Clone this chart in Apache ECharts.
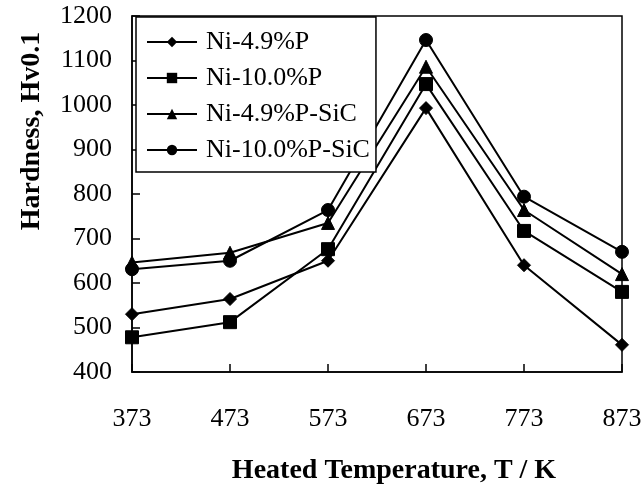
<!DOCTYPE html>
<html>
<head>
<meta charset="utf-8">
<script src="https://cdn.jsdelivr.net/npm/echarts@6/dist/echarts.min.js"></script>
<style>
html,body{margin:0;padding:0;background:#fff;}
#c{width:642px;height:487px;}
</style>
</head>
<body>
<div id="c"></div>
<script>
const temps = ['373', '473', '573', '673', '773', '873'];
const ni49P = [530, 564, 650, 993, 640, 461];
const ni100P = [478, 512, 676, 1047, 717, 580];
const ni49PSiC = [646, 668, 735, 1086, 764, 620];
const ni100PSiC = [631, 650, 764, 1146, 794, 670];
const seriesNames = ['Ni-4.9%P', 'Ni-10.0%P', 'Ni-4.9%P-SiC', 'Ni-10.0%P-SiC'];
const yTicks = {min: 400, max: 1200, step: 100};

const font = '"Liberation Serif", "Times New Roman", serif';
const chart = echarts.init(document.getElementById('c'), null, {renderer: 'canvas'});

function mk(name, data, symbol, size) {
  return {
    name: name, type: 'line', data: data, symbol: symbol, symbolSize: size,
    lineStyle: {color: '#000', width: 2},
    itemStyle: {color: '#000', borderColor: '#000'},
    emphasis: {disabled: true},
    animation: false
  };
}

chart.setOption({
  backgroundColor: '#fff',
  animation: false,
  grid: {left: 132, right: 20, top: 16, bottom: 115, outerBoundsMode: 'none', containLabel: false, show: true, borderColor: '#000', borderWidth: 1.5, backgroundColor: 'transparent'},
  legend: {
    left: 136, top: 17, orient: 'vertical',
    data: seriesNames,
    itemWidth: 50, itemHeight: 13, itemGap: 10,
    padding: [12, 6, 9, 10],
    borderColor: '#000', borderWidth: 1.5, backgroundColor: '#fff',
    textStyle: {fontFamily: font, fontSize: 26, color: '#000', padding: [0, 0, 0, 4]}
  },
  xAxis: {
    type: 'category', data: temps, boundaryGap: false,
    name: 'Heated Temperature, T / K', nameLocation: 'middle', nameGap: 85,
    nameTextStyle: {fontFamily: font, fontSize: 28, fontWeight: 'bold', color: '#000', padding: [0, 0, 0, 34]},
    axisLine: {lineStyle: {color: '#000', width: 1.5}},
    axisTick: {inside: true, length: 8, lineStyle: {color: '#000', width: 1.5}},
    axisLabel: {fontFamily: font, fontSize: 26, color: '#000', margin: 34},
    splitLine: {show: false}
  },
  yAxis: {
    type: 'value', min: yTicks.min, max: yTicks.max, interval: yTicks.step,
    name: 'Hardness, Hv0.1', nameLocation: 'middle', nameGap: 86, nameRotate: 90,
    nameTextStyle: {fontFamily: font, fontSize: 28, fontWeight: 'bold', color: '#000', padding: [0, 0, 0, 126]},
    axisLine: {show: true, lineStyle: {color: '#000', width: 1.5}},
    axisTick: {show: true, inside: true, length: 8, lineStyle: {color: '#000', width: 1.5}},
    axisLabel: {fontFamily: font, fontSize: 26, color: '#000', margin: 20, formatter: function (v) { return String(v); }},
    splitLine: {show: false}
  },
  series: [
    mk(seriesNames[0], ni49P, 'diamond', 13),
    mk(seriesNames[1], ni100P, 'rect', 13),
    mk(seriesNames[2], ni49PSiC, 'triangle', 13),
    mk(seriesNames[3], ni100PSiC, 'circle', 13)
  ]
});
</script>
</body>
</html>
